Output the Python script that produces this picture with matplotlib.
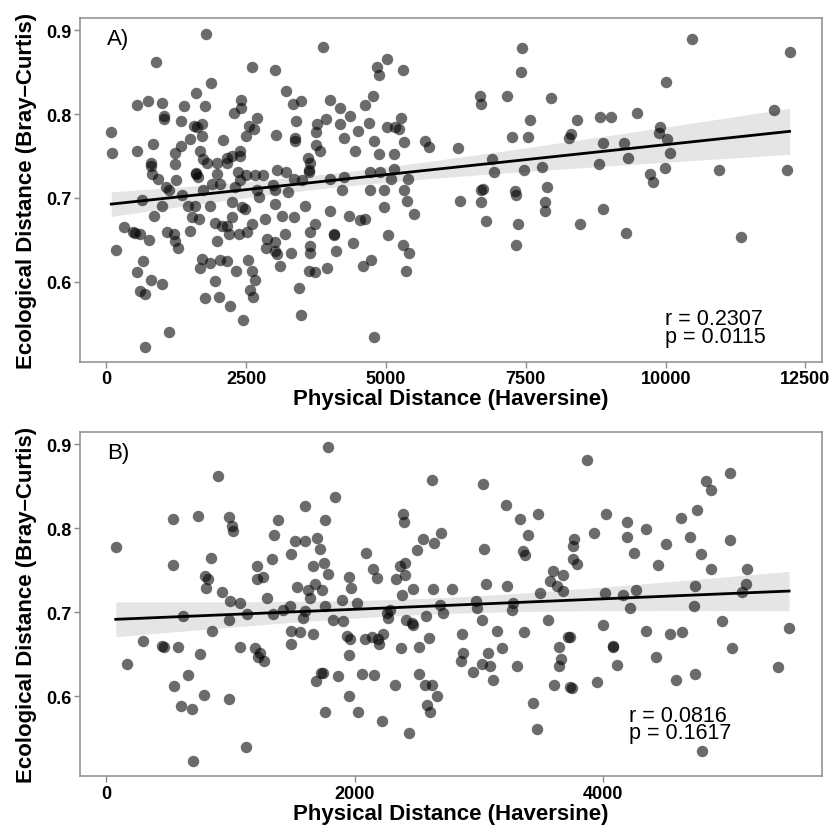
import matplotlib
matplotlib.use("Agg")
import matplotlib.pyplot as plt
import numpy as np

# ---- data ----
# panel A: all site pairs
a_dist = [
    1790, 3875, 895, 2610, 3020, 1880, 3210, 1600, 550, 750,
    995, 1395, 1765, 2400, 2410, 2285, 3330, 3490, 4005, 1025,
    1025, 1340, 2700, 2560, 3400, 3930, 3775, 1575, 1630, 1710,
    1710, 90, 100, 550, 840, 1500, 1340, 1220, 1680, 2080,
    2500, 2640, 3040, 3370, 3370, 3755, 3750, 3830, 2385, 2385,
    2250, 2160, 2160, 1980, 1735, 1800, 1235, 805, 805, 3600,
    3650, 3050, 3220, 3620, 3620, 1600, 1640, 1610, 1980, 2355,
    2500, 2665, 2795, 815, 925, 1250, 1075, 1890, 2040, 2395,
    3350, 3500, 2975, 4005,
    1115, 640, 845, 995, 310, 470, 520, 610, 770, 175,
    1085, 1205, 1235, 1280, 1500, 1530, 1660, 1470, 1590, 1860,
    1950, 2070, 2160, 2200, 1980, 2250, 2250, 2425, 2485, 2370,
    2515, 2605, 2725, 3020, 2845, 3140, 3350, 2875, 3020, 3050,
    3020, 3200, 2855, 3110, 3310, 3560, 3725, 3650, 3650, 3650,
    3620, 3725, 3945, 4005, 3450, 3480, 1710, 1680, 1860, 2040,
    2160, 2325, 2535, 2605, 2665, 2575, 2615, 1950, 1760, 2020,
    2215, 2445, 665, 550, 805, 995, 610, 700, 1130, 700,
    1350, 1735, 2305, 2695, 3255, 3020,
    5020, 4840, 4870, 5300, 7435, 7415, 4760, 4620, 4185, 4350,
    4185, 4700, 4500, 5020, 5170, 5275, 5225, 4245, 4780, 5330,
    4440, 4870, 5150, 5705, 5765, 6285, 6675, 6700, 7165, 7950,
    7580, 7255, 7540, 8300, 8270, 8415, 6895, 6925, 7465, 7790,
    7880, 7315, 6735, 4720, 4900, 5150, 5090, 5390,
    4245, 4215, 4720, 4960, 5315,
    5375, 4960, 5495, 4335, 4540, 4630, 4075, 4075, 4410, 4105,
    5035, 5305, 5405, 4730, 4585, 5360, 4790, 6330, 6705, 6705,
    6790, 7330, 7360, 7330, 7840, 7840, 8475,
    10480, 12215, 10015, 11935, 8835, 9025, 9480, 8880, 9250, 9905,
    9875, 10025, 10075, 9330, 8805, 9995, 9715, 9775, 10960, 12170,
    8880, 9300, 11350,
]
a_eco = [
    0.895, 0.880, 0.862, 0.856, 0.852, 0.837, 0.827, 0.825, 0.811, 0.815,
    0.813, 0.810, 0.810, 0.817, 0.807, 0.801, 0.812, 0.816, 0.817, 0.798,
    0.794, 0.792, 0.795, 0.786, 0.792, 0.794, 0.788, 0.786, 0.785, 0.788,
    0.774, 0.778, 0.754, 0.756, 0.764, 0.770, 0.762, 0.754, 0.756, 0.769,
    0.774, 0.782, 0.775, 0.772, 0.768, 0.779, 0.763, 0.756, 0.756, 0.750,
    0.750, 0.748, 0.742, 0.742, 0.746, 0.742, 0.740, 0.742, 0.738, 0.748,
    0.742, 0.733, 0.731, 0.733, 0.731, 0.730, 0.725, 0.728, 0.729, 0.731,
    0.727, 0.727, 0.727, 0.729, 0.723, 0.721, 0.713, 0.717, 0.717, 0.721,
    0.723, 0.721, 0.715, 0.723,
    0.709, 0.698, 0.678, 0.691, 0.666, 0.659, 0.658, 0.657, 0.650, 0.638,
    0.659, 0.657, 0.649, 0.641, 0.661, 0.677, 0.675, 0.691, 0.691, 0.690,
    0.670, 0.667, 0.667, 0.657, 0.649, 0.677, 0.695, 0.689, 0.687, 0.657,
    0.659, 0.669, 0.701, 0.693, 0.675, 0.678, 0.677, 0.651, 0.647, 0.633,
    0.637, 0.657, 0.641, 0.619, 0.635, 0.690, 0.669, 0.659, 0.643, 0.634,
    0.613, 0.612, 0.617, 0.685, 0.593, 0.561, 0.627, 0.617, 0.623, 0.626,
    0.625, 0.613, 0.626, 0.613, 0.602, 0.590, 0.582, 0.601, 0.581, 0.582,
    0.571, 0.555, 0.625, 0.612, 0.602, 0.598, 0.589, 0.586, 0.540, 0.523,
    0.703, 0.709, 0.713, 0.709, 0.707, 0.709,
    0.865, 0.856, 0.846, 0.853, 0.879, 0.850, 0.821, 0.811, 0.807, 0.798,
    0.788, 0.789, 0.780, 0.785, 0.784, 0.795, 0.782, 0.771, 0.768, 0.767,
    0.756, 0.752, 0.752, 0.768, 0.761, 0.760, 0.821, 0.812, 0.821, 0.819,
    0.793, 0.773, 0.773, 0.776, 0.771, 0.793, 0.747, 0.731, 0.733, 0.737,
    0.713, 0.708, 0.711, 0.731, 0.731, 0.735, 0.723, 0.723,
    0.725, 0.709, 0.709, 0.709, 0.709,
    0.696, 0.689, 0.681, 0.678, 0.674, 0.675, 0.657, 0.656, 0.646, 0.637,
    0.656, 0.644, 0.635, 0.626, 0.619, 0.613, 0.534, 0.696, 0.695, 0.710,
    0.672, 0.704, 0.669, 0.644, 0.695, 0.684, 0.669,
    0.889, 0.874, 0.838, 0.805, 0.797, 0.796, 0.801, 0.766, 0.766, 0.784,
    0.777, 0.770, 0.754, 0.748, 0.740, 0.736, 0.728, 0.719, 0.733, 0.733,
    0.687, 0.658, 0.654,
]

# panel B: pairs within the shorter distance range
b_dist = [
    1788, 898, 541, 742, 989, 1011, 1024, 78, 541, 842,
    796, 818, 802, 930, 1212, 1212, 1260, 1332, 1351, 1386,
    1600, 1761, 1842, 1520, 1488, 1600, 1694, 1721, 1667, 1756,
    1788, 1533, 1627, 1681, 1735,
    2619, 3034, 3217, 3329, 3471, 3396, 3356, 3369, 3042, 2386,
    2399, 2547, 2638, 2694, 2498, 2088, 2144, 2177, 1957, 1968,
    2364, 2404, 2404, 2332, 2471, 2627, 2785, 3056, 3222, 3763,
    3758, 3758, 3785, 3597, 3571, 3624, 3672, 3677, 3490,
    3871, 5018, 4825, 4863, 4750, 4621, 4021, 4187, 4187, 4343, 3924,
    4246, 4501, 4696, 5018, 4782, 4442, 4863, 5152, 5147, 4737, 4013, 4160, 4262,
    5112, 4214, 4731, 3994, 3731, 4343, 4536, 4630, 4951, 5493, 4080, 4080,
    4107, 4420, 5031, 5402, 3745, 3946, 4581, 4737, 4790,
    2378, 1895, 2016, 1761, 2257, 2270, 2284, 2686, 2713, 2976, 2981, 3021,
    3270, 3262, 1828, 1908, 2413, 2458, 2471, 2573, 3557,
    1935, 1962, 2083, 2137, 2190, 2198, 2230, 1957, 2370, 2520,
    2600, 2860, 3147, 3361, 3185, 2868, 2852, 2949, 3021, 3075,
    3088, 3110, 3308, 3640, 3718, 3657, 3640, 3605, 3731, 3436, 3469,
    1748, 1868, 2056, 2155, 2324, 2520, 2565, 2619, 2664, 1957,
    1761, 2024, 2579, 2606, 2222, 2439,
    997, 1078, 1131, 1292, 1641, 1426, 1346, 1480, 1582, 1600,
    622, 989, 850, 300, 453, 469, 581, 166, 758, 662,
    549, 791, 603, 689, 992, 1078, 1198, 1238, 1273, 1220,
    1488, 1560, 1667, 1488, 1729, 1686, 1126, 702,
]
b_eco = [
    0.896, 0.862, 0.811, 0.815, 0.813, 0.803, 0.796, 0.778, 0.756, 0.764,
    0.743, 0.739, 0.729, 0.724, 0.755, 0.739, 0.742, 0.763, 0.792, 0.810,
    0.826, 0.810, 0.837, 0.785, 0.769, 0.785, 0.788, 0.775, 0.755, 0.759,
    0.745, 0.730, 0.727, 0.733, 0.727,
    0.857, 0.853, 0.827, 0.811, 0.817, 0.792, 0.773, 0.768, 0.775, 0.817,
    0.807, 0.787, 0.782, 0.794, 0.774, 0.770, 0.751, 0.741, 0.742, 0.729,
    0.755, 0.759, 0.744, 0.739, 0.728, 0.728, 0.728, 0.733, 0.731, 0.787,
    0.779, 0.763, 0.757, 0.749, 0.737, 0.731, 0.744, 0.725, 0.723,
    0.881, 0.865, 0.856, 0.845, 0.821, 0.812, 0.817, 0.807, 0.789, 0.799, 0.794,
    0.771, 0.781, 0.789, 0.786, 0.769, 0.756, 0.752, 0.752, 0.734, 0.731, 0.723, 0.721, 0.726,
    0.724, 0.705, 0.707, 0.685, 0.670, 0.678, 0.674, 0.676, 0.689, 0.681, 0.660, 0.659,
    0.637, 0.647, 0.657, 0.635, 0.610, 0.617, 0.619, 0.627, 0.535,
    0.721, 0.715, 0.711, 0.707, 0.699, 0.693, 0.703, 0.709, 0.699, 0.713, 0.705, 0.691,
    0.711, 0.703, 0.691, 0.689, 0.691, 0.687, 0.685, 0.695, 0.691,
    0.672, 0.668, 0.668, 0.670, 0.668, 0.662, 0.674, 0.649, 0.657, 0.659,
    0.669, 0.674, 0.678, 0.676, 0.657, 0.651, 0.642, 0.629, 0.638, 0.652,
    0.636, 0.620, 0.636, 0.659, 0.670, 0.645, 0.636, 0.613, 0.611, 0.592, 0.561,
    0.628, 0.624, 0.626, 0.625, 0.613, 0.627, 0.614, 0.613, 0.601, 0.601,
    0.581, 0.581, 0.590, 0.581, 0.571, 0.556,
    0.713, 0.711, 0.698, 0.717, 0.717, 0.703, 0.698, 0.707, 0.693, 0.701,
    0.695, 0.691, 0.678, 0.666, 0.660, 0.659, 0.659, 0.639, 0.650, 0.625,
    0.612, 0.602, 0.589, 0.585, 0.597, 0.659, 0.657, 0.652, 0.642, 0.647,
    0.678, 0.676, 0.674, 0.662, 0.628, 0.618, 0.540, 0.523,
]

a_stats = ["r = 0.2307", "p = 0.0115"]
b_stats = ["r = 0.0816", "p = 0.1617"]
a_xticks = [0, 2500, 5000, 7500, 10000, 12500]
b_xticks = [0, 2000, 4000]
y_ticks = [0.6, 0.7, 0.8, 0.9]

plt.rcParams['font.family'] = ['Liberation Sans', 'DejaVu Sans']


def fit_band(x, y, n_grid=100):
    """Least squares line with a 95% confidence band for the mean."""
    x = np.asarray(x, float)
    y = np.asarray(y, float)
    slope, intercept = np.polyfit(x, y, 1)
    grid = np.linspace(x.min(), x.max(), n_grid)
    fit = intercept + slope * grid
    resid = y - (intercept + slope * x)
    n = len(x)
    s = np.sqrt(np.sum(resid ** 2) / (n - 2))
    sxx = np.sum((x - x.mean()) ** 2)
    se = s * np.sqrt(1.0 / n + (grid - x.mean()) ** 2 / sxx)
    return grid, fit, 1.96 * se


def draw_panel(ax, dist, eco, tag, stats, stats_xy, xticks, xlim):
    grid, fit, half = fit_band(dist, eco)
    ax.fill_between(grid, fit - half, fit + half, color='#d4d4d4', alpha=0.6,
                    linewidth=0, zorder=1)
    ax.scatter(dist, eco, s=68, color='black', alpha=0.58, linewidths=0, zorder=2)
    ax.plot(grid, fit, color='black', linewidth=2.0, zorder=3)

    ax.set_xlim(*xlim)
    ax.set_ylim(0.505, 0.914)
    ax.set_xticks(xticks)
    ax.set_yticks(y_ticks)
    ax.set_yticklabels([f"{t:.1f}" for t in y_ticks])

    ax.text(0.036, 0.94, tag, transform=ax.transAxes, fontsize=16,
            ha='left', va='center')
    # r and p sit tightly stacked, as one two-line label
    ax.text(stats_xy[0], stats_xy[1], "\n".join(stats), transform=ax.transAxes,
            fontsize=15.5, ha='left', va='center', linespacing=0.8)

    ax.set_xlabel('Physical Distance (Haversine)', fontsize=16,
                  fontweight='bold', labelpad=1)
    ax.set_ylabel('Ecological Distance (Bray\u2013Curtis)', fontsize=16,
                  fontweight='bold', labelpad=7)

    for spine in ax.spines.values():
        spine.set_color('#8c8c8c')
        spine.set_linewidth(1.1)
    ax.tick_params(axis='both', colors='#8c8c8c', length=4, width=1.0,
                   labelcolor='black', labelsize=13, pad=2)
    for lbl in ax.get_xticklabels() + ax.get_yticklabels():
        lbl.set_fontweight('bold')


fig = plt.figure(figsize=(8.33, 8.29), dpi=100)
ax_a = fig.add_axes([0.0960, 0.5625, 0.8911, 0.4142])
ax_b = fig.add_axes([0.0960, 0.0624, 0.8911, 0.4150])

draw_panel(ax_a, a_dist, a_eco, 'A)', a_stats, (0.788, 0.100),
           a_xticks, (-470, 12800))
draw_panel(ax_b, b_dist, b_eco, 'B)', b_stats, (0.740, 0.152),
           b_xticks, (-210, 5760))

fig.savefig('out.png', dpi=100)
